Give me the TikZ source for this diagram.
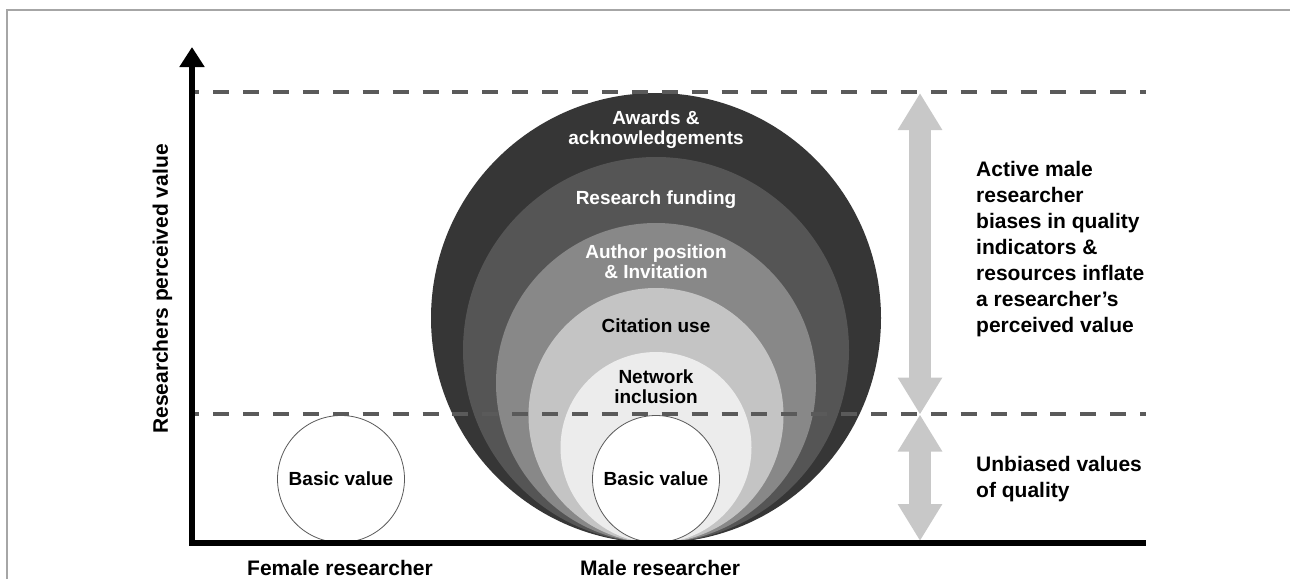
\documentclass[tikz,border=0pt]{standalone}
\usepackage{fontspec}
\setmainfont{Liberation Sans}
\usepackage{xcolor}
\usetikzlibrary{shapes, arrows.meta, positioning}

\definecolor{ringA}{HTML}{363636}
\definecolor{ringB}{HTML}{555555}
\definecolor{ringC}{HTML}{888888}
\definecolor{ringD}{HTML}{C4C4C4}
\definecolor{ringE}{HTML}{ECECEC}
\definecolor{dashgray}{HTML}{5A5A5A}
\definecolor{arrowgray}{HTML}{C8C8C8}

\tikzset{
    ringlabel/.style={font=\fontsize{19}{20}\selectfont\bfseries, align=center, inner sep=0pt},
    sidelabel/.style={font=\fontsize{21}{26}\selectfont\bfseries, align=left, inner sep=0pt, anchor=west},
    axislabel/.style={font=\fontsize{21}{26}\selectfont\bfseries, inner sep=0pt},
    basic/.style={circle, draw=dashgray, line width=0.8pt, fill=white, minimum size=127pt, inner sep=0pt, font=\fontsize{19}{20}\selectfont\bfseries},
    levelline/.style={dashgray, line width=3.5pt, dash pattern=on 16pt off 13.9pt, dash phase=11.7pt},
    spanarrow/.style={arrowgray, line width=22pt, {Triangle[length=37pt,width=42pt]}-{Triangle[length=37pt,width=42pt]}},
}

\begin{document}
\begin{tikzpicture}[x=1pt, y=-1pt]
        \useasboundingbox (0,0) rectangle (1290,579);
        % Frame
        \draw[gray!70, line width=1.2pt] (7,579) -- (7,10) -- (1290,10);

        % Rings of the male researcher
        \foreach \r/\c in {225/ringA, 193/ringB, 160/ringC, 127.5/ringD, 95.5/ringE} {
            \fill[\c] (656,543-\r) circle (\r);
        }
        \node[ringlabel, white] (awards) at (656,130) {Awards \&\\acknowledgements};
        \node[ringlabel, white] (funding) at (656,200) {Research funding};
        \node[ringlabel, white] (author) at (656,262) {Author position\\\& Invitation};
        \node[ringlabel] (citation) at (656,326) {Citation use};
        \node[ringlabel] (network) at (656,387) {Network\\inclusion};

        % Basic values
        \node[basic] (femalebasic) at (341,479) {Basic value};
        \node[basic] (malebasic) at (656,479) {Basic value};

        % Arrows
        \coordinate (spantop) at (920,93);
        \coordinate (spanmid) at (920,414.5);
        \coordinate (spanbot) at (920,541);
        \draw[spanarrow] (spantop) -- (spanmid);
        \draw[spanarrow] (spanmid) -- (spanbot);

        % Levels
        \coordinate (highstart) at (195,92);
        \coordinate (highend) at (1146,92);
        \coordinate (lowstart) at (195,414);
        \coordinate (lowend) at (1146,414);
        \draw[levelline] (highstart) -- (highend);
        \draw[levelline] (lowstart) -- (lowend);

        % Side texts
        \node[sidelabel] (biases) at (976,249.5) {Active male\\researcher\\biases in quality\\indicators \&\\resources inflate\\a researcher's\\perceived value};
        \node[sidelabel] (unbiased) at (976,479.5) {Unbiased values\\of quality};

        % Axes
        \coordinate (origin) at (192,543);
        \coordinate (ytip) at (192,47);
        \coordinate (xend) at (1146,543);
        \draw[line width=5.5pt, {Triangle[length=20pt,width=24pt]}-] (ytip) -- (origin) -- (xend);
        \node[axislabel, rotate=90] (ylabel) at (162.5,289) {Researchers perceived value};
        \node[axislabel, anchor=base] (female) at (340,575) {Female researcher};
        \node[axislabel, anchor=base] (male) at (660,575) {Male researcher};
    \end{tikzpicture}
\end{document}
